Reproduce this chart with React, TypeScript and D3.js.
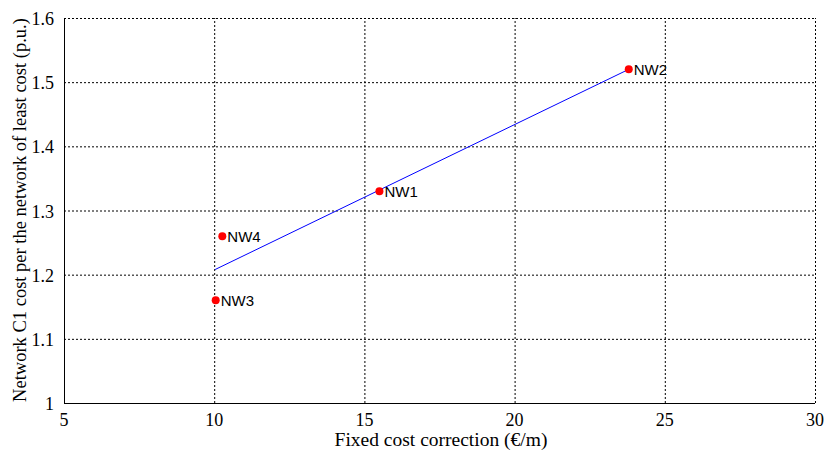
import React, { useEffect, useRef } from 'react';
import * as d3 from 'd3';

const pointNames = ['NW1', 'NW2', 'NW3', 'NW4'];
const pointX = [15.5, 23.8, 10.05, 10.27];
const pointY = [1.33, 1.52, 1.16, 1.26];

const fitX = [10.03, 23.8];
const fitY = [1.208, 1.52];

const xTicks = [5, 10, 15, 20, 25, 30];
const yTicks = [1, 1.1, 1.2, 1.3, 1.4, 1.5, 1.6];

const App = () => {
  const ref = useRef<SVGSVGElement>(null);

  useEffect(() => {
    const width = 826;
    const height = 451;
    const margin = { left: 64, right: 11, top: 18, bottom: 48 };
    const serif = 'Liberation Serif, Times New Roman, serif';

    const svg = d3.select(ref.current);
    svg.selectAll('*').remove();

    const x = d3.scaleLinear().domain([5, 30]).range([margin.left, width - margin.right]);
    const y = d3.scaleLinear().domain([1, 1.6]).range([height - margin.bottom, margin.top]);

    // Grid lines
    const grid = svg.append('g').attr('stroke', '#000').attr('stroke-width', 1).attr('stroke-dasharray', '2,2');
    grid
      .selectAll('line.v')
      .data(xTicks.slice(1))
      .enter()
      .append('line')
      .attr('x1', (d) => x(d) + 0.5)
      .attr('x2', (d) => x(d) + 0.5)
      .attr('y1', y(1))
      .attr('y2', y(1.6));
    grid
      .selectAll('line.h')
      .data(yTicks.slice(1))
      .enter()
      .append('line')
      .attr('y1', (d) => y(d) + 0.5)
      .attr('y2', (d) => y(d) + 0.5)
      .attr('x1', x(5))
      .attr('x2', x(30));

    // Axes
    svg
      .append('line')
      .attr('x1', x(5) + 0.5)
      .attr('x2', x(5) + 0.5)
      .attr('y1', y(1))
      .attr('y2', y(1.6))
      .attr('stroke', '#000');
    svg
      .append('line')
      .attr('x1', x(5))
      .attr('x2', x(30))
      .attr('y1', y(1) + 0.5)
      .attr('y2', y(1) + 0.5)
      .attr('stroke', '#000');

    // Tick labels
    svg
      .append('g')
      .selectAll('text')
      .data(xTicks)
      .enter()
      .append('text')
      .attr('x', (d) => x(d))
      .attr('y', y(1) + 23)
      .attr('text-anchor', 'middle')
      .attr('font-family', serif)
      .attr('font-size', 18)
      .text((d) => d);
    svg
      .append('g')
      .selectAll('text')
      .data(yTicks)
      .enter()
      .append('text')
      .attr('x', x(5) - 10)
      .attr('y', (d) => y(d) + 7)
      .attr('text-anchor', 'end')
      .attr('font-family', serif)
      .attr('font-size', 18)
      .text((d) => d3.format('~g')(d));

    // Axis titles
    svg
      .append('text')
      .attr('x', 441)
      .attr('y', 446)
      .attr('text-anchor', 'middle')
      .attr('font-family', serif)
      .attr('font-size', 19.5)
      .text('Fixed cost correction (€/m)');
    svg
      .append('text')
      .attr('transform', `translate(26, 210) rotate(-90)`)
      .attr('text-anchor', 'middle')
      .attr('font-family', serif)
      .attr('font-size', 18.5)
      .text('Network C1 cost per the network of least cost (p.u.)');

    // Fit line
    const line = d3
      .line<number>()
      .x((d) => x(d))
      .y((_, i) => y(fitY[i]));
    svg
      .append('path')
      .datum(fitX)
      .attr('d', line)
      .attr('fill', 'none')
      .attr('stroke', '#0000ff')
      .attr('stroke-width', 1);

    // Points and labels
    const pts = svg.append('g');
    pts
      .selectAll('circle')
      .data(pointNames)
      .enter()
      .append('circle')
      .attr('cx', (_, i) => x(pointX[i]))
      .attr('cy', (_, i) => y(pointY[i]))
      .attr('r', 4)
      .attr('fill', '#ff0000');
    pts
      .selectAll('text')
      .data(pointNames)
      .enter()
      .append('text')
      .attr('x', (_, i) => x(pointX[i]) + 5)
      .attr('y', (_, i) => y(pointY[i]) + 6)
      .attr('font-family', 'Liberation Sans, Arial, sans-serif')
      .attr('font-size', 15)
      .text((d) => d);
  }, []);

  return <svg ref={ref} width={826} height={451} style={{ position: 'absolute', left: 0, top: 0 }} />;
};

export default App;
